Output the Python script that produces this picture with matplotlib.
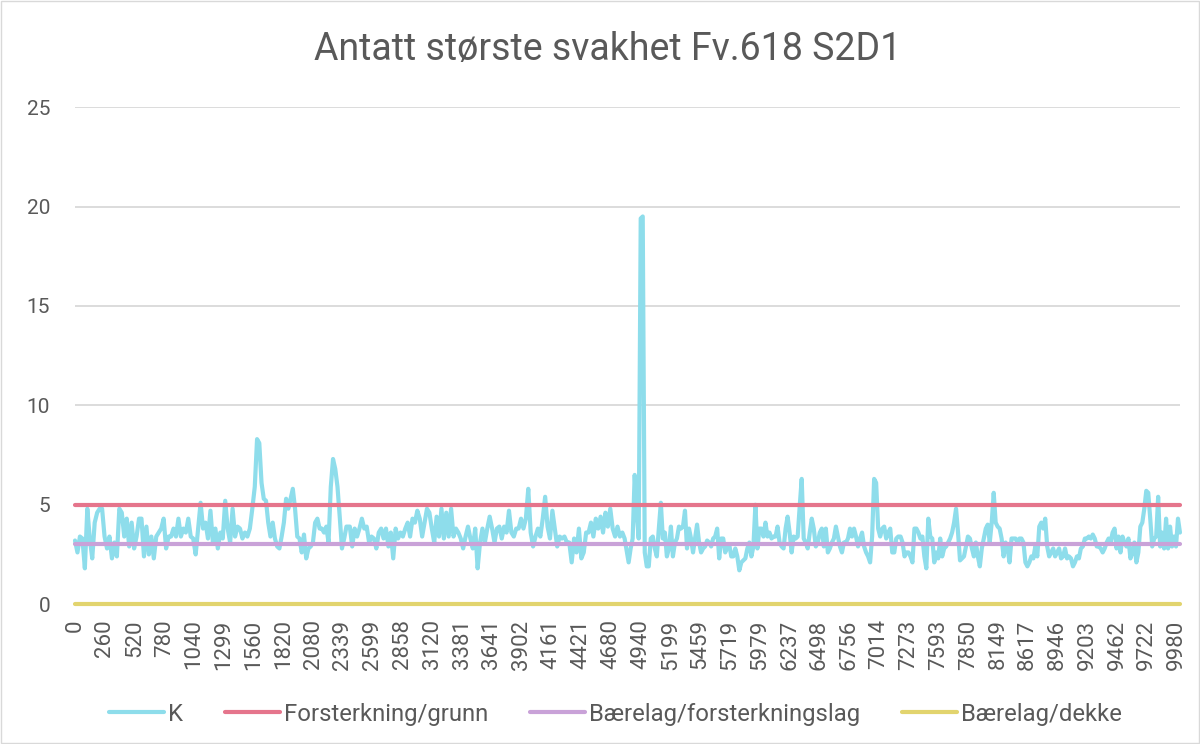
import matplotlib
matplotlib.use("Agg")
import matplotlib.pyplot as plt
import numpy as np
from matplotlib.patches import Rectangle

plt.rcParams['font.family'] = ['Roboto', 'DejaVu Sans']

# chainage labels on the category axis (every 26th category)
tick_labels = ['0', '260', '520', '780', '1040', '1299', '1560', '1820', '2080', '2339',
               '2599', '2858', '3120', '3381', '3641', '3902', '4161', '4421', '4680',
               '4940', '5199', '5459', '5719', '5979', '6237', '6498', '6756', '7014',
               '7273', '7593', '7850', '8149', '8617', '8946', '9203', '9462', '9722', '9980']
n_categories = 966
tick_step = 26

# K values, in pieces with the category range each spans
k_seg1a = [3.2, 2.6, 3.4, 3.3, 1.8, 4.8, 3.3, 2.3, 4.1, 4.6, 4.8, 4.8, 3.4, 2.8, 3.4, 2.3,
           3.1, 2.4, 4.8, 4.6, 3.4, 4.3, 2.9, 4.1, 2.8, 3.4, 4.3, 4.3, 2.4, 3.9, 2.5, 3.4,
           2.3, 3.4, 3.6, 3.8, 4.3, 2.8, 3.4, 3.4, 3.8, 3.4, 4.3, 3.4, 3.8, 3.6, 4.3, 3.4,
           3.3, 2.5, 3.8, 5.1, 3.8, 4.1, 3.3, 4.7, 3.1, 3.8, 2.8, 3.6, 3.3, 5.2, 3.8, 3.1,
           4.8, 3.4, 3.9, 3.8, 3.3, 3.6, 3.4, 3.8, 4.8, 5.9]
k_seg1b = [8.3, 8.1, 6.1, 5.3, 5.2, 4.1, 3.4, 4.1, 3.3, 2.9, 2.8, 3.4, 4.1, 5.3, 4.8, 5.3,
           5.8, 4.8, 3.4, 3.3, 2.6, 3.5, 2.3, 2.8, 2.9, 3.1, 4.1, 4.3, 3.8, 3.8, 3.6, 3.9,
           3.1, 5.9, 7.3, 6.8, 5.9, 4.4, 2.8, 3.3, 3.9, 3.9]
k_seg2 = [3.9, 2.9, 3.8, 3.4, 3.8, 4.3, 3.8, 3.9, 3.1, 3.4, 3.3, 2.8, 3.6, 3.8, 3.3, 3.8,
          2.9, 3.6, 2.3, 3.8, 3.3, 3.6, 3.4, 3.8, 4.1, 3.4, 4.3, 4.1, 4.7, 4.3, 3.4, 4.1,
          4.8, 4.6, 3.8, 3.1, 4.4, 3.4, 4.8, 3.3, 4.6, 3.4, 4.8, 3.4, 3.8, 3.6, 3.3, 2.8,
          3.4, 3.9, 3.3, 2.8, 3.8, 1.8, 3.1, 3.8, 3.1, 3.8, 4.4, 3.8, 3.1, 3.8, 3.9, 3.3,
          3.9, 3.6, 4.7, 3.6, 3.4, 3.8, 3.8, 4.3, 3.8, 4.3, 5.8, 3.6, 2.9, 3.4, 3.8, 3.4,
          4.3, 5.4, 3.9, 3.3, 4.7, 3.8, 2.9, 3.4, 3.3, 3.4, 3.1, 3.1, 2.1, 3.3, 2.6, 3.8,
          2.3, 2.6, 3.6, 3.6, 4.1, 3.4, 4.3, 3.8, 4.4, 3.6, 4.6, 3.9, 4.8, 3.8, 3.4, 3.9,
          3.4, 3.6]
k_seg3 = [3.3, 2.7, 2.1, 2.8, 3.3, 6.5, 4.6, 3.3, 19.4, 19.5, 2.6, 1.9, 1.9, 3.3, 3.4, 2.8,
          2.4, 3.8, 5.1, 3.3, 3.6, 2.4, 2.8, 3.9, 2.4, 3.1, 3.3, 3.9, 3.8, 3.9, 4.7, 2.8,
          3.8, 3.3, 2.6, 3.3, 4.0, 3.1, 2.6, 2.8, 2.9, 3.2, 3.1, 2.9, 3.3, 3.4, 3.8, 2.3,
          3.3, 3.3, 2.6, 2.9, 3.0, 2.4, 2.4, 2.8, 2.4, 1.7, 2.1, 2.2, 2.3, 2.8, 3.1, 2.4,
          2.9, 5.0, 2.8, 3.8, 3.8, 3.4, 4.1, 3.4, 3.6, 3.3, 3.4, 3.4, 3.9, 3.1, 2.9, 2.8,
          3.8, 4.4, 3.6, 2.6, 3.4, 3.3, 3.4, 4.9, 6.3, 3.3, 3.1, 2.8, 3.6, 4.3, 3.8, 2.9,
          3.1, 3.6, 3.8, 2.9, 3.8, 2.6, 2.8, 3.1, 3.3, 3.9, 3.4, 2.9, 2.6, 3.1, 3.1, 3.3,
          3.8, 3.4, 3.8, 3.4, 2.9, 3.3, 3.6, 2.9, 2.6, 2.4, 2.1, 3.4, 6.3, 6.1, 3.8, 3.4,
          3.8, 3.9, 3.3, 3.6, 3.8, 2.6, 2.6, 3.3, 3.4]
k_seg4 = [3.4, 3.1, 2.4, 2.6, 2.6, 2.4, 2.1, 3.8, 3.8, 3.6, 3.3, 3.4, 2.4, 1.8, 4.3, 3.4,
          3.3, 2.1, 2.6, 2.3, 3.3, 2.4, 2.8, 2.9, 3.1, 3.3, 3.6, 4.1, 4.8, 3.6, 2.2, 2.3,
          2.4, 2.9, 3.4, 3.3, 2.8, 2.4, 3.1, 2.4, 1.9, 2.8, 3.3, 3.8, 4.0, 3.1, 4.1, 5.6,
          4.1, 3.9, 3.8, 3.3, 2.4, 3.1, 2.8, 2.1, 3.3, 3.3, 3.3, 3.1, 3.3, 3.3, 3.1, 2.1,
          1.9, 2.1, 2.4, 2.3, 2.9, 2.4, 3.9, 4.1, 3.8, 4.3, 2.9, 2.4, 2.6, 2.8, 2.4, 2.6,
          2.8, 2.3, 2.4, 2.8, 2.3, 2.4, 2.3, 1.9, 2.1, 2.4, 2.3, 2.8, 2.9, 3.3, 3.3, 3.4,
          3.3, 3.5, 3.3, 2.9, 2.9, 2.8, 2.6, 2.8, 3.1, 3.3, 3.1, 3.6, 3.8, 2.8, 3.4, 2.6,
          3.4, 3.1, 2.9, 3.3, 2.3, 2.6, 3.1, 2.1, 2.6, 3.9, 4.1, 4.8, 5.7, 5.6, 4.3, 2.9,
          3.3, 3.4, 5.4, 2.9, 3.6, 2.8, 4.3, 2.8, 3.9, 2.9, 3.4, 2.9, 4.3, 3.6]
k_segments = [k_seg1a, k_seg1b, k_seg2, k_seg3, k_seg4]
seg_ranges = [(0, 157), (159, 239), (240, 478), (480, 719), (721, 965)]

forsterkning_grunn = 5
baerelag_forsterkningslag = 3
baerelag_dekke = 0

k_x = np.concatenate([np.linspace(a, b, len(s)) for s, (a, b) in zip(k_segments, seg_ranges)])
k_y = np.concatenate(k_segments)
cats = np.arange(n_categories)

fig = plt.figure(figsize=(12, 7.44), dpi=100)
ax = fig.add_axes([0.0625, 0.188, 0.9208, 0.668])
fig.patches.append(Rectangle((0.001, 0.001), 0.998, 0.998, transform=fig.transFigure,
                             fill=False, edgecolor='#D9D9D9', linewidth=1))

ax.plot(k_x, k_y, color='#8EDDEB', linewidth=3, label='K', zorder=3,
        solid_joinstyle='round', solid_capstyle='round', clip_on=False)
ax.plot(cats, [forsterkning_grunn] * n_categories, color='#E5758C', linewidth=3,
        label='Forsterkning/grunn', zorder=4, solid_capstyle='round', clip_on=False)
ax.plot(cats, [baerelag_forsterkningslag] * n_categories, color='#C9A2D8', linewidth=3,
        label='Bærelag/forsterkningslag', zorder=4, solid_capstyle='round', clip_on=False)
ax.plot(cats, [baerelag_dekke] * n_categories, color='#E2D46E', linewidth=3,
        label='Bærelag/dekke', zorder=4, solid_capstyle='round', clip_on=False)

ax.set_xticks(np.arange(len(tick_labels)) * tick_step)
ax.set_xticklabels(tick_labels, rotation=90)
ax.set_xlim(0, n_categories - 1)
ax.set_ylim(0, 25)
ax.set_yticks([0, 5, 10, 15, 20, 25])
ax.grid(axis='y', color='#D9D9D9', linewidth=1.3)
ax.set_axisbelow(True)
for s in ax.spines.values():
    s.set_visible(False)
ax.tick_params(axis='both', length=0, labelcolor='#595959')
ax.tick_params(axis='x', labelsize=16, pad=11)
ax.tick_params(axis='y', labelsize=15, pad=18)

fig.text(0.506, 0.933, 'Antatt største svakhet Fv.618 S2D1', ha='center', va='center',
         fontsize=27, color='#595959')

fig.legend(loc='center', bbox_to_anchor=(0.513, 0.04), ncol=4, frameon=False,
           fontsize=17.2, handlelength=2.3, handletextpad=0.17, columnspacing=1.75,
           labelcolor='#595959')

fig.savefig('out.png', dpi=100)
